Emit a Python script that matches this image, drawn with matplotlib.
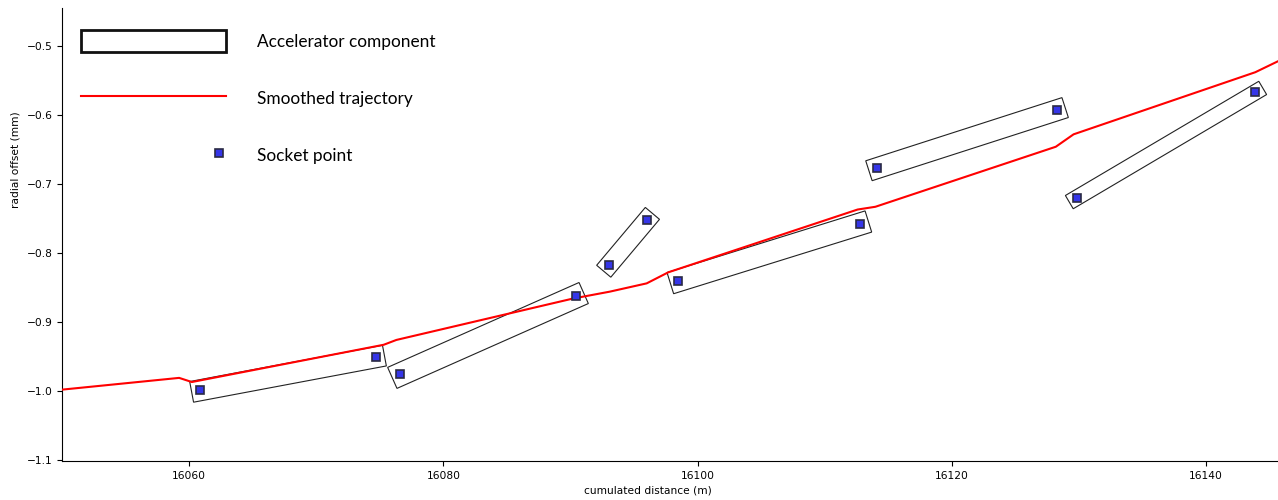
import numpy as np
import matplotlib
matplotlib.use("Agg")
import matplotlib.pyplot as plt
from matplotlib.patches import Polygon, Patch
from matplotlib.lines import Line2D
from matplotlib.legend_handler import HandlerLine2D

# ── Data ─────────────────────────────────────────────────────────────────────
socket_x = [16060.84, 16074.70, 16076.59, 16090.43, 16093.05, 16096.02,
            16098.50, 16112.81, 16114.13, 16128.30, 16129.84, 16143.91]
socket_y = [-0.999, -0.951, -0.976, -0.863, -0.817, -0.752,
            -0.840, -0.758, -0.677, -0.593, -0.720, -0.567]

# each accelerator component joins two socket points
components = [(0, 1), (2, 3), (4, 5), (6, 7), (8, 9), (10, 11)]

traj_x = [16050.0, 16059.2, 16060.2, 16075.3, 16076.3, 16090.2, 16093.1,
          16096.0, 16097.7, 16112.6, 16114.0, 16128.2, 16129.6, 16143.9, 16145.7]
traj_y = [-0.998, -0.981, -0.987, -0.933, -0.926, -0.866, -0.856,
          -0.844, -0.828, -0.737, -0.733, -0.646, -0.628, -0.538, -0.522]

labels = ["Accelerator component", "Smoothed trajectory", "Socket point"]

# drawing sizes of the component boxes (screen pixels)
box_width_px = [21.0, 23.0, 18.5, 22.2, 20.9, 15.4]
box_ext_px = 8.5


class RightMarkerHandler(HandlerLine2D):
    """Legend entry that only shows the right-hand marker."""
    def create_artists(self, legend, orig_handle, xdescent, ydescent,
                       width, height, fontsize, trans):
        arts = super().create_artists(legend, orig_handle, xdescent, ydescent,
                                      width, height, fontsize, trans)
        for a in arts:
            if len(a.get_xdata()) > 1:
                a.set_data(a.get_xdata()[-1:], a.get_ydata()[-1:])
        return arts


# ── Figure ───────────────────────────────────────────────────────────────────
W, H = 1278, 500
fig = plt.figure(figsize=(W / 100, H / 100), dpi=100)
ax = fig.add_axes([62 / W, 38.7 / H, 1216 / W, 453.3 / H])
ax.set_xlim(16049.98, 16145.69)
ax.set_ylim(-1.1019, -0.4449)

for s in ("top", "right"):
    ax.spines[s].set_visible(False)
ax.tick_params(labelsize=7.7)
ax.set_xlabel("cumulated distance (m)", fontsize=7.7)
ax.set_ylabel("radial offset (mm)", fontsize=7.7)
ax.xaxis.set_label_coords(0.482, -0.054)
ax.yaxis.set_label_coords(-0.0341, 0.665)

# component boxes, built in screen space so they stay rectangular
box_style = dict(fill=False, edgecolor="#222222", lw=0.8, zorder=2)
for (i, j), w in zip(components, box_width_px):
    p0 = ax.transData.transform((socket_x[i], socket_y[i]))
    p1 = ax.transData.transform((socket_x[j], socket_y[j]))
    d = (p1 - p0) / np.hypot(*(p1 - p0))
    n = np.array([-d[1], d[0]])
    a, b = p0 - d * box_ext_px, p1 + d * box_ext_px
    corners = np.array([a + n * w / 2, b + n * w / 2, b - n * w / 2, a - n * w / 2])
    ax.add_patch(Polygon(ax.transData.inverted().transform(corners), closed=True, **box_style))

ax.plot(traj_x, traj_y, color="red", lw=1.5, zorder=3)

mk = dict(marker="s", ms=5.5, mfc="#3535e8", mec="#2a2a44", mew=1.2)
ax.plot(socket_x, socket_y, ls="none", zorder=4, **mk)

# ── Legend ───────────────────────────────────────────────────────────────────
F = 12.45
h_box = Patch(facecolor="none", edgecolor="#111111", lw=2.0)
h_line = Line2D([], [], color="red", lw=1.5)
h_pt = Line2D([], [], ls="none", **mk)
ax.legend([h_box, h_line, h_pt], labels,
          handler_map={h_line: HandlerLine2D(numpoints=1),
                       h_pt: RightMarkerHandler(numpoints=2, marker_pad=0.4)},
          loc="upper left", bbox_to_anchor=(0.0096, 0.9667), frameon=False,
          borderaxespad=0, borderpad=0.4, handlelength=8.42, handleheight=1.58,
          labelspacing=2.04, handletextpad=1.76,
          prop={"family": "Lato", "size": F})

fig.savefig("out.png", dpi=100)
